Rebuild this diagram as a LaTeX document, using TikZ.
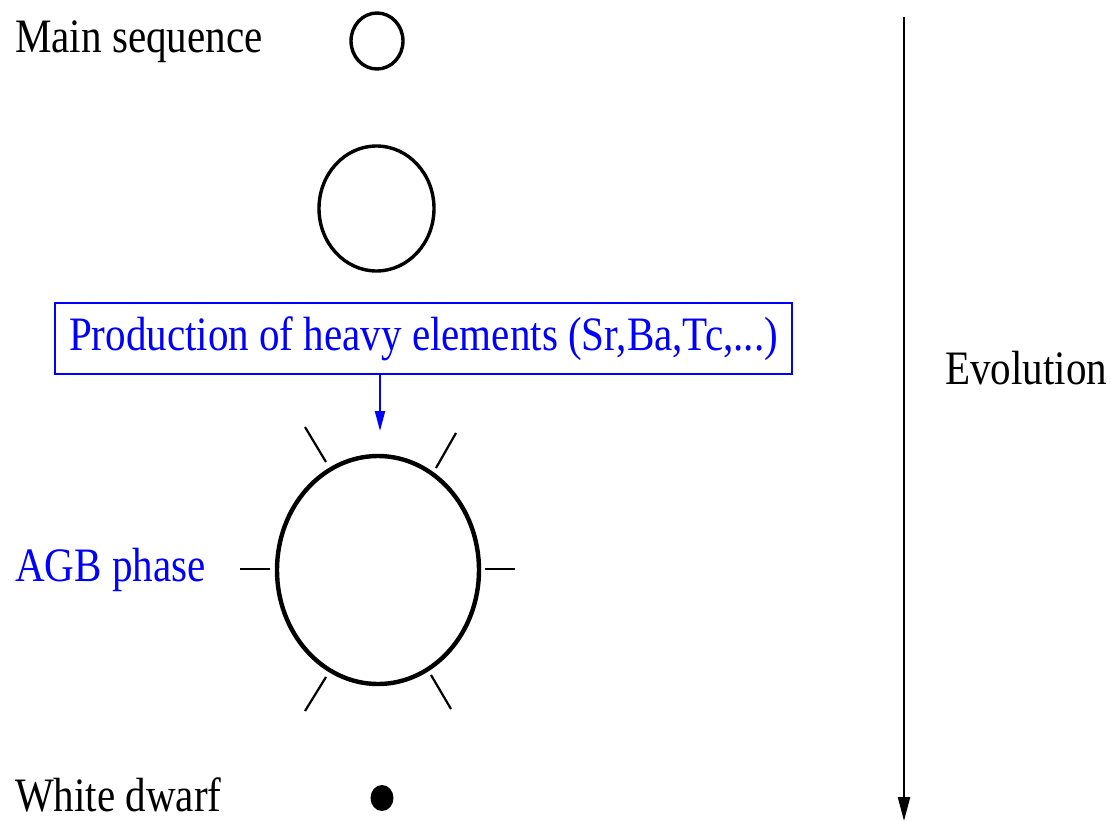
\documentclass[tikz,border=0pt]{standalone}
\usepackage{fontspec}
\setmainfont{Liberation Serif}[FakeStretch=0.855]
\usetikzlibrary{arrows.meta,shapes.geometric}
\definecolor{labelblue}{RGB}{0,0,255}
\tikzset{
  label text/.style={anchor=base west,inner sep=0pt,font=\fontsize{48}{56}\selectfont},
  star/.style={draw,ellipse,inner sep=0pt},
  ray/.style={line width=2.2pt},
}
\begin{document}
\begin{tikzpicture}[x=1pt,y=-1pt]
\useasboundingbox (0,0) rectangle (1111,821);
% stages of the star
\node[label text] (lms) at (15,53) {Main sequence};
\node[star,line width=3.4pt,minimum width=52pt,minimum height=56pt] (ms) at (377,41) {};
\node[star,line width=3.4pt,minimum width=115pt,minimum height=125pt] (giant) at (376.5,208.5) {};
\node[draw=labelblue,line width=2.6pt,text=labelblue,minimum width=737pt,minimum height=71pt,inner sep=0pt,
      font=\fontsize{48}{56}\selectfont] (prod) at (423.5,338.5) {Production of heavy elements (Sr,Ba,Tc,...)};
\coordinate (ptip) at (380,431);
\draw[labelblue,line width=2pt,-{Triangle[length=20pt,width=10pt]}] (ptip |- prod.south) -- (ptip);
\node[star,line width=4.4pt,minimum width=202pt,minimum height=228pt] (agb) at (378,570) {};
\node[label text,text=labelblue] (lagb) at (15,581) {AGB phase};
% rays around the AGB star
\draw[ray] (240,569) -- (270,569);
\draw[ray] (485,569) -- (515,569);
\draw[ray] (305,427) -- (326,462);
\draw[ray] (456,433) -- (436,468);
\draw[ray] (326,677) -- (305,711);
\draw[ray] (431,675) -- (451,709);
\node[label text] (lwd) at (15,811) {White dwarf};
\node[ellipse,fill,inner sep=0pt,minimum width=23pt,minimum height=26pt] (wd) at (382,798) {};
% time axis
\coordinate (etop) at (904,17);
\coordinate (ebot) at (904,821);
\draw[line width=2.2pt,-{Triangle[length=24pt,width=12pt]}] (etop) -- (ebot);
\node[label text] (lev) at (945,384) {Evolution};
\end{tikzpicture}
\end{document}
